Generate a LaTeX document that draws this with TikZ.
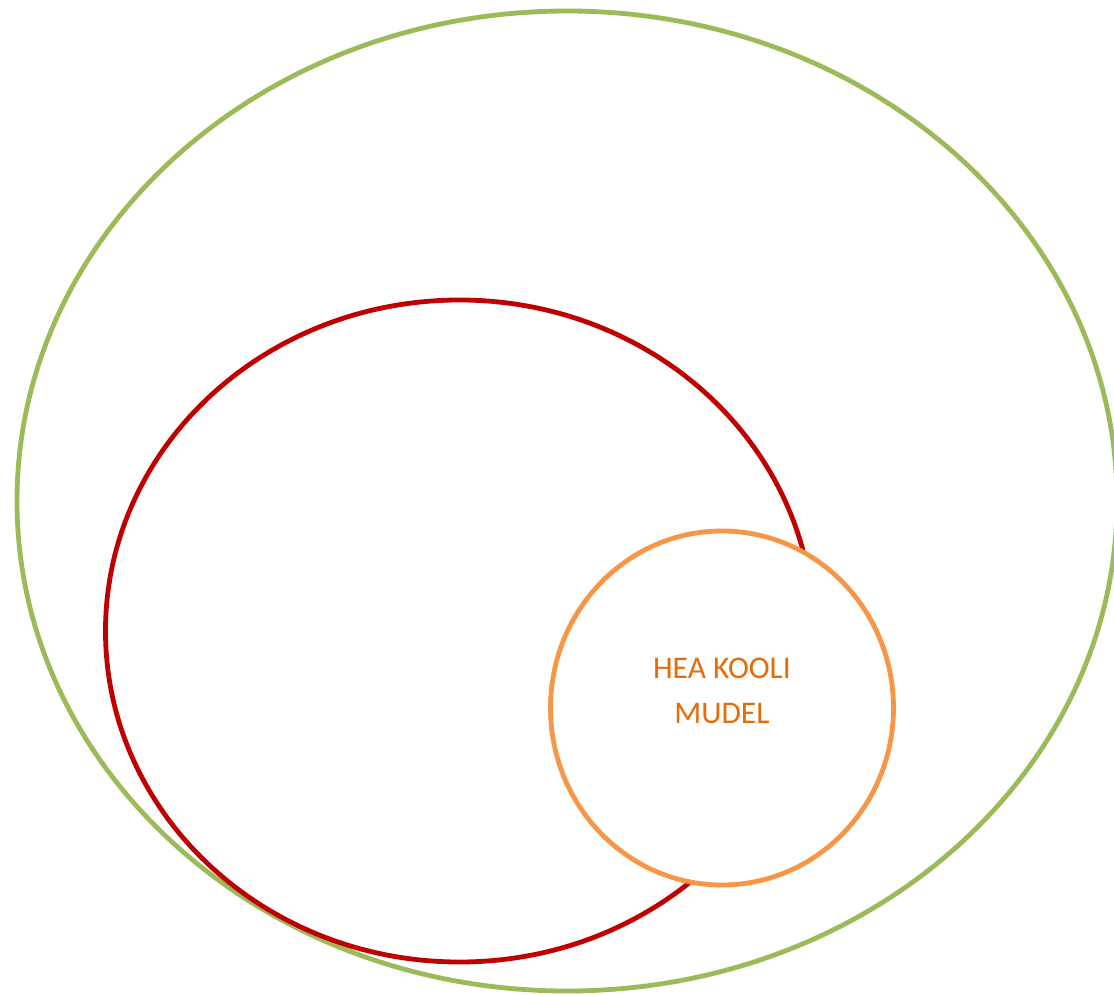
\documentclass[tikz,border=0pt]{standalone}
\usepackage{fontspec}
\setmainfont{Carlito}
\usetikzlibrary{shapes.geometric}
\definecolor{cgreen}{HTML}{9BBB59}
\definecolor{cred}{HTML}{C00000}
\definecolor{corange}{HTML}{F79646}
\definecolor{ctext}{HTML}{E46C0A}
\begin{document}
\begin{tikzpicture}[x=1pt,y=-1pt,
  ring/.style={line width=4.8pt},
  lbl/.style={text=ctext,font=\fontsize{31.5}{45}\selectfont,align=center}]
\useasboundingbox (0,0) rectangle (1114,995);
\clip (0,0) rectangle (1114,995);
\fill[white] (0,0) rectangle (1114,995);
\draw[ring,cgreen] (567,501) ellipse [x radius=550, y radius=490];
\draw[ring,cred] (459.5,631) ellipse [x radius=354, y radius=331];
\node[ring,draw=corange,fill=white,ellipse,minimum width=343pt,minimum height=354pt,inner sep=0pt] (core) at (722,708) {};
\node[lbl] (t) at ([yshift=17pt]core.center) {HEA KOOLI\\MUDEL};
\end{tikzpicture}
\end{document}
